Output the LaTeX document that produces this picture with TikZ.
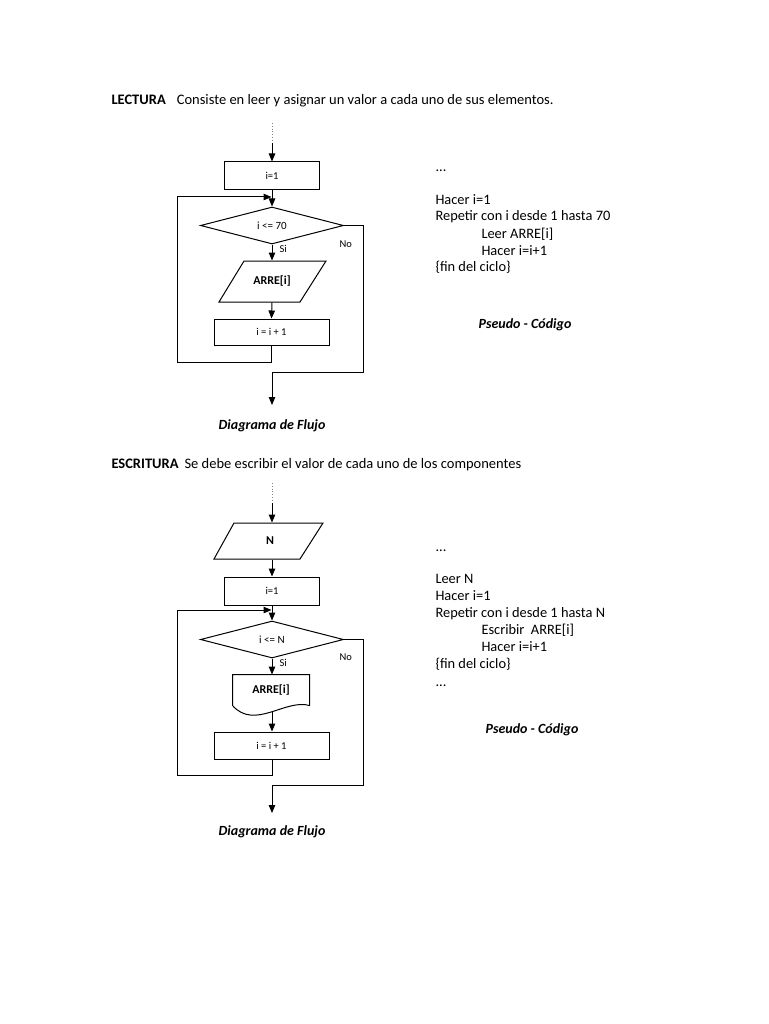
\documentclass[tikz,border=0pt]{standalone}
\usepackage{fontspec}
\setmainfont{Carlito}
\usetikzlibrary{arrows.meta,shapes.geometric,calc}
\begin{document}
\begin{tikzpicture}[x=1pt,y=-1pt,line width=1pt,
  arr/.style={-{Triangle[length=8pt,width=6.5pt]}},
  box/.style={draw,rectangle,inner sep=0pt,font=\fontsize{10.5}{12}\selectfont},
  dia/.style={draw,diamond,shape aspect=4,inner sep=0pt,minimum width=143pt,minimum height=37pt,font=\fontsize{11}{12}\selectfont},
  io/.style={inner sep=0pt,font=\fontsize{12}{14}\selectfont\bfseries},
  lbl/.style={inner sep=0pt,anchor=west,font=\fontsize{10.5}{12}\selectfont},
  hdr/.style={inner sep=0pt,anchor=base west,font=\fontsize{14.5}{16}\selectfont},
  ps/.style={inner sep=0pt,anchor=base west,font=\fontsize{14.4}{16}\selectfont},
  captxt/.style={inner sep=0pt,anchor=base,font=\fontsize{14}{16}\selectfont\bfseries\itshape},
  dots/.style={dotted,gray,line width=0.8pt}]
\fill[white] (0,0) rectangle (768,1024);
\path[use as bounding box] (0,0) rectangle (768,1024);

% ---------- LECTURA ----------
\node[hdr] (h1) at (111,105) {\textbf{LECTURA}\hspace{11pt}Consiste en leer y asignar un valor a cada uno de sus elementos.};

\coordinate (s1) at (272,123);
\coordinate (s1e) at (272,143);
\node[box,minimum width=95pt,minimum height=28pt] (a1) at (272,176) {i=1};
\node[dia] (d1) at (272,225.5) {i <= 70};
\node[io,minimum width=82pt,minimum height=41pt] (p1) at (272,281.5) {ARRE[i]};
\draw ($(p1)+(-28,-20.5)$) -- ($(p1)+(54,-20.5)$) -- ($(p1)+(28,20.5)$) -- ($(p1)+(-53,20.5)$) -- cycle;
\node[box,minimum width=115pt,minimum height=26pt] (c1) at (271.5,332) {i = i + 1};
\coordinate (j1) at (272,197);
\coordinate (l1) at (177,362);
\coordinate (n1) at (363,372);
\coordinate (e1) at (272,405);

\draw[dots] (s1) -- (s1e);
\draw[arr] (s1e) -- (a1.north);
\draw[arr] (a1.south) -- (d1.north);
\draw[arr] (d1.south) -- (p1.north);
\draw[arr] (p1.south) -- (c1.north);
\draw[arr,shorten >=0.5pt] (c1.south) |- (l1) |- (j1);
\draw[arr] (d1.east) -| (n1) -| (e1);
\node[lbl] (si1) at (279,249) {Si};
\node[lbl] (no1) at (339,244) {No};
\node[captxt] (cf1) at (272,429) {Diagrama de Flujo};

\node[ps] (q0) at (435,171.7) {...};
\node[ps] (q1) at (435,205) {Hacer i=1};
\node[ps] (q2) at (435,221) {Repetir con i desde 1 hasta 70};
\node[ps] (q3) at (481,238) {Leer ARRE[i]};
\node[ps] (q4) at (481,255) {Hacer i=i+1};
\node[ps] (q5) at (435,271) {\{fin del ciclo\}};
\node[captxt] (cp1) at (525,328) {Pseudo - Código};

% ---------- ESCRITURA ----------
\node[hdr] (h2) at (111,468) {\textbf{ESCRITURA}\hspace{6pt}Se debe escribir el valor de cada uno de los componentes};

\coordinate (s2) at (272,483);
\coordinate (s2e) at (272,503);
\node[io,minimum width=86pt,minimum height=36pt] (p2) at (270,541) {N};
\draw ($(p2)+(-36,-18)$) -- ($(p2)+(53,-18)$) -- ($(p2)+(30,18)$) -- ($(p2)+(-56,18)$) -- cycle;
\node[box,minimum width=95pt,minimum height=28pt] (a2) at (272,591) {i=1};
\node[dia] (d2) at (272,639.5) {i <= N};
\node[io,minimum width=76pt,minimum height=30pt] (doc) at (271,690) {ARRE[i]};
\draw (doc.south west) -- (doc.north west) -- (doc.north east) -- (doc.south east)
  .. controls ($(doc.south east)+(-24,-7)$) and ($(doc.south west)+(22,25)$) .. (doc.south west);
\coordinate (docb) at ($(doc.south)+(1,6)$);
\node[box,minimum width=115pt,minimum height=27pt] (c2) at (271.5,745.5) {i = i + 1};
\coordinate (j2) at (272,610);
\coordinate (l2) at (177,775);
\coordinate (n2) at (363,785);
\coordinate (e2) at (272,813);

\draw[dots] (s2) -- (s2e);
\draw[arr] (s2e) -- (s2e |- p2.north);
\draw[arr] (p2.south -| a2.north) -- (a2.north);
\draw[arr] (a2.south) -- (d2.north);
\draw[arr] (d2.south) -- (d2.south |- doc.north);
\draw[arr] (docb) -- (docb |- c2.north);
\draw[arr,shorten >=0.5pt] (c2.south -| j2) |- (l2) |- (j2);
\draw[arr] (d2.east) -| (n2) -| (e2);
\node[lbl] (si2) at (279,663) {Si};
\node[lbl] (no2) at (339,657) {No};
\node[captxt] (cf2) at (272,835) {Diagrama de Flujo};

\node[ps] (r0) at (435,551.7) {...};
\node[ps] (r1) at (435,583.3) {Leer N};
\node[ps] (r2) at (435,600.7) {Hacer i=1};
\node[ps] (r3) at (435,617) {Repetir con i desde 1 hasta N};
\node[ps] (r4) at (481,634) {Escribir\ \ ARRE[i]};
\node[ps] (r5) at (481,651) {Hacer i=i+1};
\node[ps] (r6) at (435,668) {\{fin del ciclo\}};
\node[ps] (r7) at (435,686.7) {...};
\node[captxt] (cp2) at (532,733) {Pseudo - Código};
\end{tikzpicture}
\end{document}
